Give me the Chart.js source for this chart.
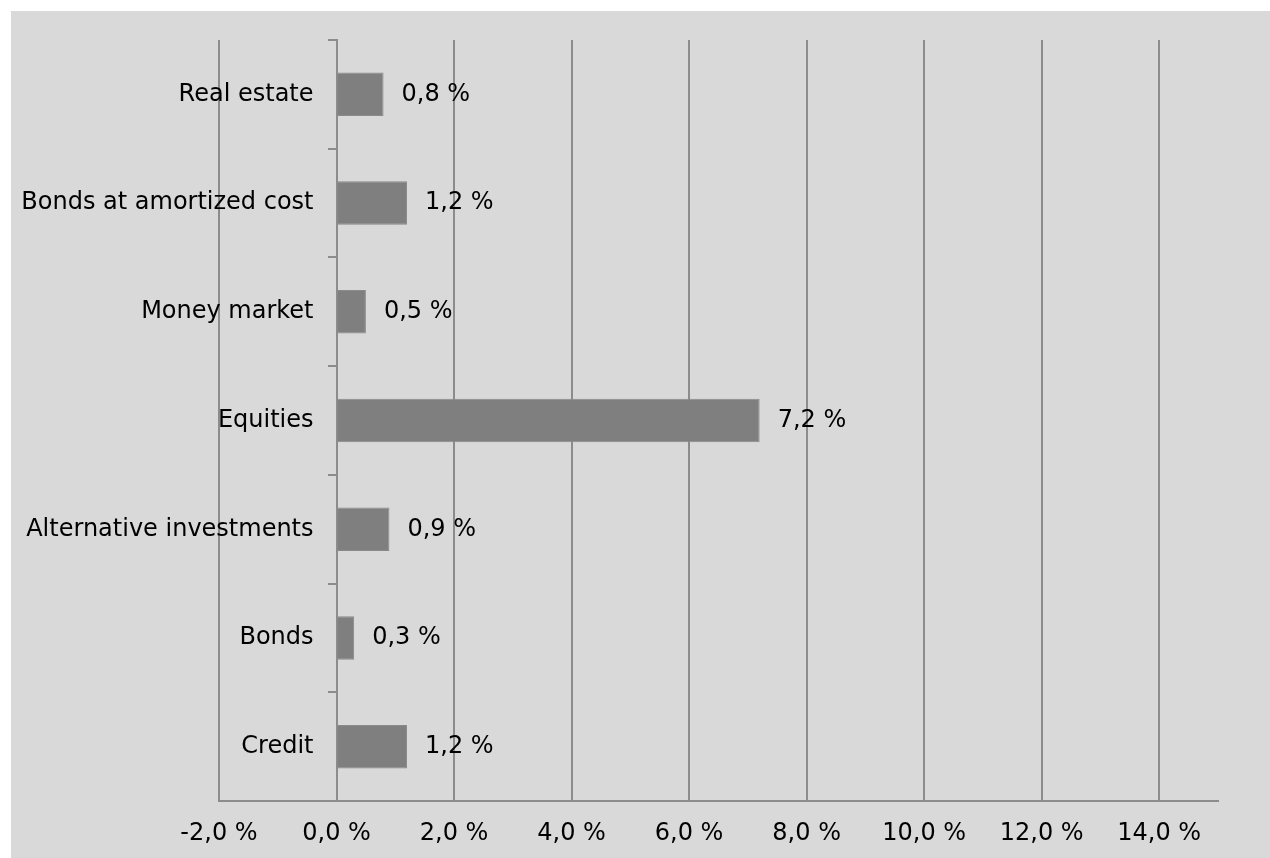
<!DOCTYPE html>
<html>
<head>
<meta charset="utf-8">
<script src="https://cdn.jsdelivr.net/npm/chart.js@4"></script>
<style>
  html, body { margin: 0; padding: 0; background: #ffffff; overflow: hidden; }
  #wrap {
    position: absolute;
    left: 11px;
    top: 11px;
    width: 1259px;
    height: 866px;
    background: #d9d9d9;
  }
</style>
</head>
<body>
<div id="wrap"><canvas id="returnsChart"></canvas></div>
<script>
/* ── Data ───────────────────────────────────────────────────────────────── */

const categories = [
    'Real estate',
    'Bonds at amortized cost',
    'Money market',
    'Equities',
    'Alternative investments',
    'Bonds',
    'Credit',
];

// Return per asset class, in percent
const returns = [0.8, 1.2, 0.5, 7.2, 0.9, 0.3, 1.2];

const xTickValues = [-2, 0, 2, 4, 6, 8, 10, 12, 14];
const X_MIN = -2;
const X_MAX = 15;

/* ── Styling ────────────────────────────────────────────────────────────── */

const COLORS = {
    bar:       '#7f7f7f',
    barBorder: '#8a8a8a',
    grid:      '#8c8c8c',
    text:      '#000000',
};

const FONT = { family: "'DejaVu Sans', Verdana, sans-serif", size: 24 };

Chart.defaults.font.family = FONT.family;
Chart.defaults.font.size   = FONT.size;
Chart.defaults.color       = COLORS.text;

/* ── Helpers ────────────────────────────────────────────────────────────── */

function formatPercent(v) {
    return v.toFixed(1).replace('.', ',') + ' %';
}

// The category axis sits at x = 0, where Chart.js ignores tick padding,
// so its labels are written here; the value labels go right of each bar.
const barLabels = {
    id: 'barLabels',
    afterDatasetsDraw(chart) {
        const ctx  = chart.ctx;
        const meta = chart.getDatasetMeta(0);
        const xs   = chart.scales.x;
        const ys   = chart.scales.y;
        const axisX = xs.getPixelForValue(0);

        ctx.save();
        ctx.font = `${FONT.size}px ${FONT.family}`;
        ctx.fillStyle = COLORS.text;
        ctx.textBaseline = 'middle';

        ctx.textAlign = 'right';
        categories.forEach((name, i) => {
            ctx.fillText(name, axisX - 23, ys.getPixelForValue(i));
        });

        ctx.textAlign = 'left';
        meta.data.forEach((bar, i) => {
            ctx.fillText(formatPercent(returns[i]), bar.x + 18, bar.y);
        });
        ctx.restore();
    },
};

/* ── Chart ──────────────────────────────────────────────────────────────── */

new Chart(document.getElementById('returnsChart').getContext('2d'), {
    type: 'bar',
    data: {
        labels: categories,
        datasets: [{
            data: returns,
            backgroundColor: COLORS.bar,
            borderColor: COLORS.barBorder,
            borderWidth: 1,
            categoryPercentage: 1,
            barPercentage: 0.4,
        }],
    },
    options: {
        indexAxis: 'y',
        responsive: true,
        maintainAspectRatio: false,
        animation: false,
        layout: { padding: { left: 208, right: 52, top: 29, bottom: 11 } },
        scales: {
            x: {
                type: 'linear',
                min: X_MIN,
                max: X_MAX,
                afterBuildTicks: axis => {
                    axis.ticks = xTickValues.map(v => ({ value: v }));
                },
                grid: { color: COLORS.grid, lineWidth: 2, drawTicks: false },
                border: { color: COLORS.grid, width: 2 },
                ticks: {
                    padding: 18,
                    maxRotation: 0,
                    autoSkip: false,
                    callback: v => formatPercent(v),
                },
            },
            y: {
                position: { x: 0 },
                grid: {
                    drawOnChartArea: false,
                    drawTicks: true,
                    tickLength: 8,
                    lineWidth: 2,
                    color: COLORS.grid,
                },
                border: { color: COLORS.grid, width: 2 },
                ticks: { display: false },
            },
        },
        plugins: {
            legend: { display: false },
            tooltip: { enabled: false },
        },
    },
    plugins: [barLabels],
});
</script>
</body>
</html>
